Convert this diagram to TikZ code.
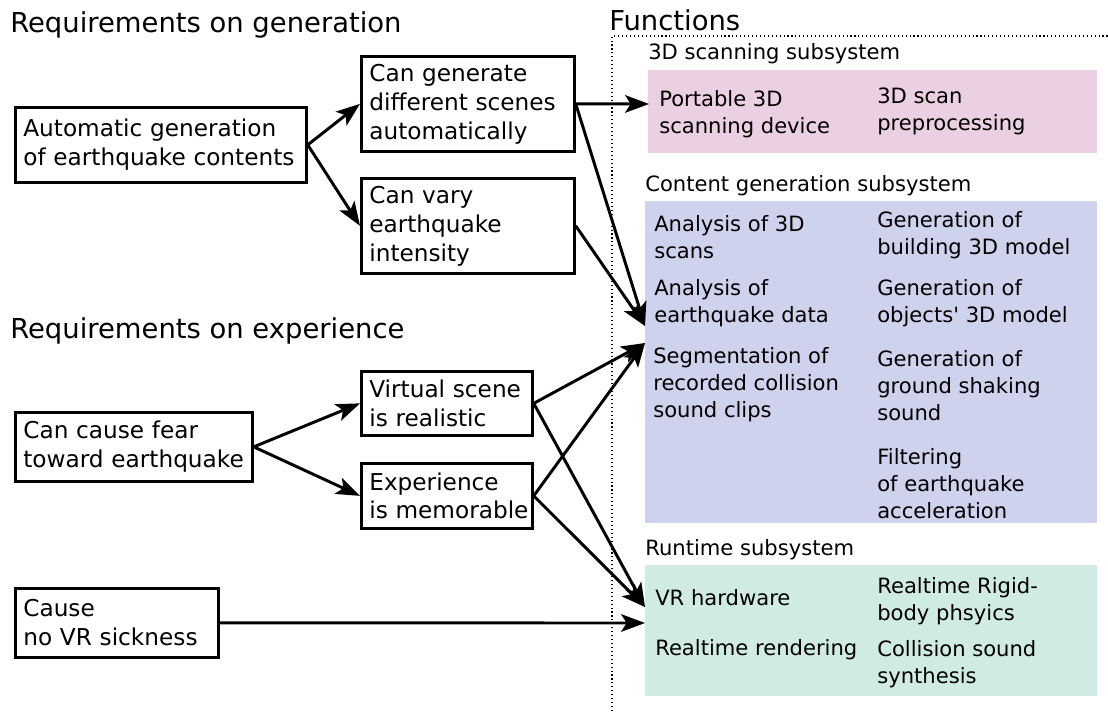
\documentclass[tikz,border=0pt]{standalone}
\usepackage{fontspec}
\setmainfont{DejaVu Sans}
\usetikzlibrary{arrows.meta}

\definecolor{scanpink}{RGB}{235,207,227}
\definecolor{genblue}{RGB}{207,210,236}
\definecolor{rungreen}{RGB}{207,235,227}

\begin{document}
\begin{tikzpicture}[x=0.025cm, y=-0.025cm,
    req/.style = {draw, line width=1.9pt, anchor=north west, align=left, inner xsep=0.2cm, inner ysep=0pt,
      font=\fontsize{16.5}{20.6}\selectfont, execute at begin node={\hyphenpenalty=10000}},
    func/.style = {anchor=west, align=left, inner sep=0pt, font=\fontsize{15}{19.2}\selectfont},
    subsys/.style = {anchor=west, inner sep=0pt, font=\fontsize{15}{18}\selectfont},
    heading/.style = {anchor=west, inner sep=0pt, font=\fontsize{19.5}{23}\selectfont},
    region/.style = {anchor=north west, inner sep=0pt, draw=none},
    link/.style = {line width=2.1pt, -{Stealth[length=17pt, width=12.5pt, inset=4pt]}}]
    \useasboundingbox (0,0) rectangle (1108,711);

    % requirements
    \node[heading] (hgen) at (10,25) {Requirements on generation};
    \node[heading] (hexp) at (10,331) {Requirements on experience};

    \node[req, text width=6.875cm, minimum height=1.875cm] (auto) at (14,106) {Automatic generation\\of~earthquake~contents};
    \node[req, text width=4.925cm, minimum height=2.375cm] (scenes) at (360,55) {Can generate\\different scenes\\automatically};
    \node[req, text width=4.925cm, minimum height=2.375cm] (vary) at (360,177) {Can vary\\earthquake\\intensity};
    \node[req, text width=5.525cm, minimum height=1.725cm] (fear) at (14,411) {Can cause fear\\toward~earthquake};
    \node[req, text width=3.875cm, minimum height=1.6cm] (real) at (360,370) {Virtual~scene\\is realistic};
    \node[req, text width=3.875cm, minimum height=1.625cm] (memo) at (360,462) {Experience\\is~memorable};
    \node[req, text width=4.675cm, minimum height=1.725cm] (sick) at (14,587) {Cause\\no VR sickness};

    % functions
    \node[heading] (hfun) at (609,20) {Functions};
    \draw[dotted, line width=0.8pt] (612,711) -- (612,36) -- (1108,36);

    \node[subsys] (lscan) at (648,54) {3D scanning subsystem};
    \node[region, fill=scanpink, minimum width=11.225cm, minimum height=2.075cm] (scan) at (648,70) {};
    \node[func] (f1) at (659,114) {Portable 3D\\scanning device};
    \node[func] (f2) at (877,111) {3D scan\\preprocessing};

    \node[subsys] (lgen) at (645,186) {Content generation subsystem};
    \node[region, fill=genblue, minimum width=11.3cm, minimum height=8.05cm] (gen) at (645,201) {};
    \node[func] (f3) at (654,237) {Analysis of 3D\\scans};
    \node[func] (f4) at (654,303) {Analysis of\\earthquake data};
    \node[func] (f5) at (653,385) {Segmentation of\\recorded collision\\sound clips};
    \node[func] (f6) at (877,235) {Generation of\\building 3D model};
    \node[func] (f7) at (877,303) {Generation of\\objects\textquotesingle{} 3D model};
    \node[func] (f8) at (877,386) {Generation of\\ground shaking\\sound};
    \node[func] (f9) at (877,484) {Filtering\\of earthquake\\acceleration};

    \node[subsys] (lrun) at (645,550) {Runtime subsystem};
    \node[region, fill=rungreen, minimum width=11.3cm, minimum height=3.275cm] (run) at (645,565) {};
    \node[func] (f10) at (655,598) {VR hardware};
    \node[func] (f11) at (655,650) {Realtime rendering};
    \node[func] (f12) at (877,601) {Realtime Rigid-\\body phsyics};
    \node[func] (f13) at (877,664) {Collision sound\\synthesis};

    \coordinate (scanin) at (649,104);
    \coordinate (genin) at (645,326);
    \coordinate (genin2) at (645,343);
    \coordinate (runin) at (645,607);
    \coordinate (runin2) at (645,623);

    % links
    \path[link] (auto.east) edge (scenes.west);
    \path[link] (auto.east) edge (vary.west);
    \path[link] (fear.east) edge (real.west);
    \path[link] (fear.east) edge (memo.west);
    \path[link] (scenes.east) edge (scanin);
    \path[link] (scenes.east) edge (genin);
    \path[link] (vary.east) edge (genin);
    \path[link] (real.east) edge (genin2);
    \path[link] (memo.east) edge (genin2);
    \path[link] (real.east) edge (runin);
    \path[link] (memo.east) edge (runin);
    \path[link] (sick.east) edge (runin2);
\end{tikzpicture}
\end{document}
